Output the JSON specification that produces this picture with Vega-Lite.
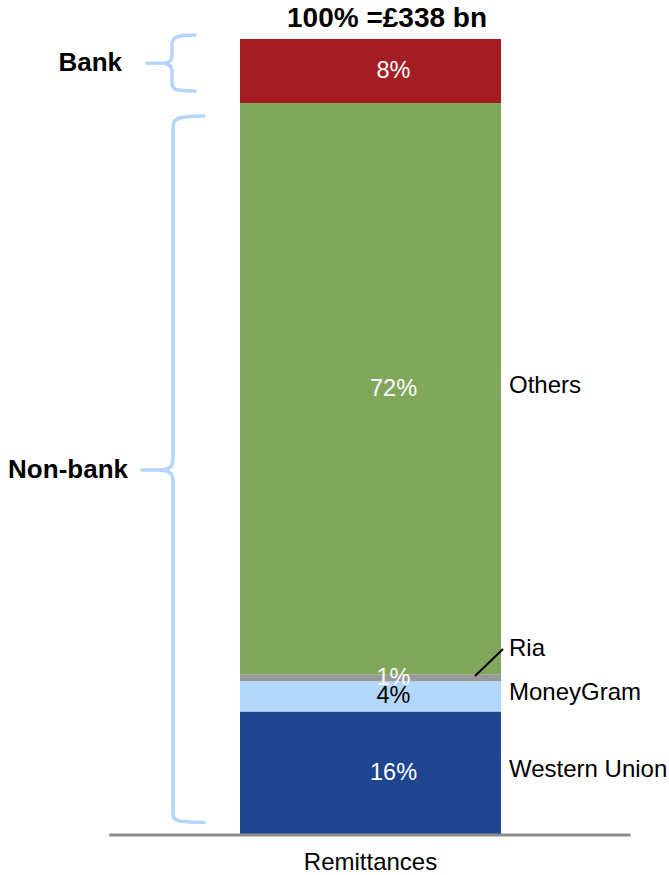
{
  "$schema": "https://vega.github.io/schema/vega-lite/v6.json",
  "width": 669,
  "height": 795,
  "autosize": {"type": "none"},
  "padding": {"left": 0, "right": 0, "top": 39, "bottom": 41},
  "background": "white",
  "config": {"view": {"stroke": null}, "font": "Liberation Sans", "text": {"font": "Liberation Sans"}},
  "datasets": {
    "shares": [
      {"chart": "Remittances", "company": "Western Union", "rank": 1, "share": 15.4, "label": "16%"},
      {"chart": "Remittances", "company": "MoneyGram", "rank": 2, "share": 3.8, "label": "4%"},
      {"chart": "Remittances", "company": "Ria", "rank": 3, "share": 0.9, "label": "1%"},
      {"chart": "Remittances", "company": "Others", "rank": 4, "share": 71.85, "label": "72%"},
      {"chart": "Remittances", "company": "Bank", "rank": 5, "share": 8.05, "label": "8%"}
    ],
    "brackets": [
      {"part": "nb-upper", "o": 1, "x": 30.49, "y": 90.31},
      {"part": "nb-upper", "o": 2, "x": 28.40, "y": 90.25},
      {"part": "nb-upper", "o": 3, "x": 26.76, "y": 90.06},
      {"part": "nb-upper", "o": 4, "x": 26.08, "y": 89.69},
      {"part": "nb-upper", "o": 5, "x": 25.86, "y": 89.06},
      {"part": "nb-upper", "o": 6, "x": 25.86, "y": 47.04},
      {"part": "nb-upper", "o": 7, "x": 25.64, "y": 46.29},
      {"part": "nb-upper", "o": 8, "x": 24.96, "y": 45.91},
      {"part": "nb-upper", "o": 9, "x": 23.92, "y": 45.79},
      {"part": "nb-upper", "o": 10, "x": 21.23, "y": 45.79},
      {"part": "nb-lower", "o": 1, "x": 23.92, "y": 45.79},
      {"part": "nb-lower", "o": 2, "x": 24.96, "y": 45.66},
      {"part": "nb-lower", "o": 3, "x": 25.64, "y": 45.28},
      {"part": "nb-lower", "o": 4, "x": 25.86, "y": 44.53},
      {"part": "nb-lower", "o": 5, "x": 25.86, "y": 2.39},
      {"part": "nb-lower", "o": 6, "x": 26.08, "y": 1.89},
      {"part": "nb-lower", "o": 7, "x": 26.76, "y": 1.64},
      {"part": "nb-lower", "o": 8, "x": 28.40, "y": 1.51},
      {"part": "nb-lower", "o": 9, "x": 30.49, "y": 1.45},
      {"part": "b-upper", "o": 1, "x": 29.15, "y": 100.50},
      {"part": "b-upper", "o": 2, "x": 27.35, "y": 100.44},
      {"part": "b-upper", "o": 3, "x": 26.16, "y": 100.19},
      {"part": "b-upper", "o": 4, "x": 25.71, "y": 99.62},
      {"part": "b-upper", "o": 5, "x": 25.71, "y": 97.74},
      {"part": "b-upper", "o": 6, "x": 25.49, "y": 97.23},
      {"part": "b-upper", "o": 7, "x": 24.81, "y": 96.98},
      {"part": "b-upper", "o": 8, "x": 21.97, "y": 96.94},
      {"part": "b-lower", "o": 1, "x": 24.81, "y": 96.92},
      {"part": "b-lower", "o": 2, "x": 25.49, "y": 96.60},
      {"part": "b-lower", "o": 3, "x": 25.71, "y": 96.10},
      {"part": "b-lower", "o": 4, "x": 25.71, "y": 94.21},
      {"part": "b-lower", "o": 5, "x": 26.16, "y": 93.65},
      {"part": "b-lower", "o": 6, "x": 27.35, "y": 93.52},
      {"part": "b-lower", "o": 7, "x": 29.15, "y": 93.46}
    ]
  },
  "resolve": {"scale": {"x": "independent"}, "axis": {"x": "independent"}},
  "layer": [
    {
      "data": {"name": "shares"},
      "transform": [
        {"stack": "share", "groupby": ["chart"], "sort": [{"field": "rank", "order": "ascending"}], "as": ["y0", "y1"]}
      ],
      "mark": {"type": "bar"},
      "encoding": {
        "x": {
          "field": "chart", "type": "nominal",
          "scale": {"paddingInner": 0, "paddingOuter": 0.7816, "align": 0.5882},
          "axis": {"title": null, "domain": false, "ticks": false, "tickSize": 0, "labelPadding": 28, "labelBaseline": "middle", "labelAngle": 0, "labelFontSize": 24, "labelColor": "#000000", "labelFont": "Liberation Sans"}
        },
        "y": {"field": "y0", "type": "quantitative", "scale": {"domain": [0, 100], "nice": false, "zero": true}, "axis": null},
        "y2": {"field": "y1"},
        "color": {
          "field": "company", "type": "nominal", "legend": null,
          "scale": {"domain": ["Western Union", "MoneyGram", "Ria", "Others", "Bank"], "range": ["#1F4591", "#B4D7FC", "#999999", "#80A75C", "#A31D22"]}
        }
      }
    },
    {
      "data": {"name": "shares"},
      "transform": [
        {"stack": "share", "groupby": ["chart"], "sort": [{"field": "rank", "order": "ascending"}], "as": ["y0", "y1"]},
        {"calculate": "(datum.y0 + datum.y1) / 2", "as": "ymid"}
      ],
      "mark": {"type": "text", "fontSize": 23.5, "baseline": "middle", "align": "center"},
      "encoding": {
        "x": {"field": "chart", "type": "nominal", "scale": {"paddingInner": 0, "paddingOuter": 0.7816, "align": 0.5882}, "axis": null},
        "y": {"field": "ymid", "type": "quantitative"},
        "text": {"field": "label"},
        "color": {"condition": {"test": "datum.company === 'MoneyGram'", "value": "#000000"}, "value": "#FFFFFF"}
      }
    },
    {
      "data": {"name": "shares"},
      "transform": [
        {"stack": "share", "groupby": ["chart"], "sort": [{"field": "rank", "order": "ascending"}], "as": ["y0", "y1"]},
        {"calculate": "(datum.y0 + datum.y1) / 2", "as": "ymid"},
        {"filter": "datum.company !== 'Ria' && datum.company !== 'Bank'"}
      ],
      "mark": {"type": "text", "fontSize": 24, "baseline": "middle", "align": "left", "dy": -3, "color": "#000000"},
      "encoding": {
        "x": {"datum": 76.08, "type": "quantitative", "scale": {"domain": [0, 100], "nice": false}, "axis": null},
        "y": {"field": "ymid", "type": "quantitative"},
        "text": {"field": "company"}
      }
    },
    {
      "data": {"values": [{"name": "Ria"}]},
      "mark": {"type": "text", "fontSize": 24, "baseline": "middle", "align": "left", "color": "#000000"},
      "encoding": {
        "x": {"datum": 76.08, "type": "quantitative", "scale": {"domain": [0, 100], "nice": false}, "axis": null},
        "y": {"datum": 23.27, "type": "quantitative"},
        "text": {"field": "name"}
      }
    },
    {
      "data": {"values": [{"name": "Ria leader"}]},
      "mark": {"type": "rule", "stroke": "#000000", "strokeWidth": 2},
      "encoding": {
        "x": {"datum": 71.0, "type": "quantitative", "scale": {"domain": [0, 100], "nice": false}, "axis": null},
        "x2": {"datum": 75.19},
        "y": {"datum": 19.87, "type": "quantitative"},
        "y2": {"datum": 23.27}
      }
    },
    {
      "data": {"name": "brackets"},
      "mark": {"type": "line", "stroke": "#B5D6FA", "strokeWidth": 3.5, "strokeCap": "round", "strokeJoin": "round"},
      "encoding": {
        "x": {"field": "x", "type": "quantitative", "scale": {"domain": [0, 100], "nice": false}, "axis": null},
        "y": {"field": "y", "type": "quantitative"},
        "detail": {"field": "part"},
        "order": {"field": "o"}
      }
    },
    {
      "data": {"values": [{"name": "Bank"}]},
      "mark": {"type": "text", "fontSize": 26, "fontWeight": "bold", "baseline": "middle", "align": "right", "color": "#000000"},
      "encoding": {
        "x": {"datum": 18.24, "type": "quantitative", "scale": {"domain": [0, 100], "nice": false}, "axis": null},
        "y": {"datum": 96.98, "type": "quantitative"},
        "text": {"field": "name"}
      }
    },
    {
      "data": {"values": [{"name": "Non-bank"}]},
      "mark": {"type": "text", "fontSize": 26, "fontWeight": "bold", "baseline": "middle", "align": "right", "color": "#000000"},
      "encoding": {
        "x": {"datum": 19.13, "type": "quantitative", "scale": {"domain": [0, 100], "nice": false}, "axis": null},
        "y": {"datum": 45.79, "type": "quantitative"},
        "text": {"field": "name"}
      }
    },
    {
      "data": {"values": [{"name": "100% =£338 bn"}]},
      "mark": {"type": "text", "fontSize": 28, "fontWeight": "bold", "baseline": "middle", "align": "center", "color": "#000000"},
      "encoding": {
        "x": {"datum": 57.85, "type": "quantitative", "scale": {"domain": [0, 100], "nice": false}, "axis": null},
        "y": {"datum": 102.52, "type": "quantitative"},
        "text": {"field": "name"}
      }
    },
    {
      "data": {"values": [{"name": "baseline"}]},
      "mark": {"type": "rule", "stroke": "#8C8C8C", "strokeWidth": 3},
      "encoding": {
        "x": {"datum": 16.34, "type": "quantitative", "scale": {"domain": [0, 100], "nice": false}, "axis": null},
        "x2": {"datum": 94.27},
        "y": {"datum": -0.12, "type": "quantitative"}
      }
    }
  ]
}
